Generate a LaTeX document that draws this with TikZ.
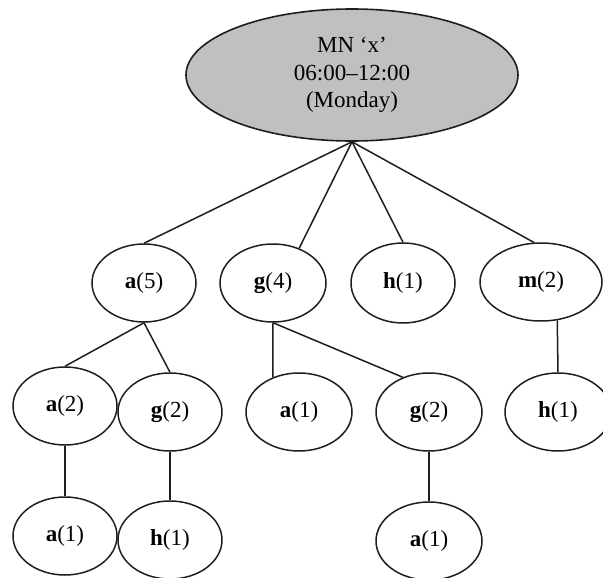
\documentclass[tikz,border=0pt]{standalone}
\usepackage{fontspec}
\setmainfont{Liberation Serif}
\usetikzlibrary{shapes.geometric}
\definecolor{rootfill}{RGB}{192,192,192}
\definecolor{ink}{RGB}{30,30,30}
\tikzset{
  oval/.style={ellipse, draw=ink, line width=1.5pt, inner sep=0pt,
    font=\fontsize{23}{27.5}\selectfont},
  leaf/.style={oval, minimum width=104pt, minimum height=78pt},
  rootoval/.style={oval, fill=rootfill, line width=1.6pt,
    minimum width=332pt, minimum height=132pt, align=center},
  link/.style={draw=ink, line width=1.5pt}
}
\newcommand{\lbl}[2]{\textbf{#1}(#2)}
\begin{document}
\begin{tikzpicture}[x=1pt, y=-1pt]
\useasboundingbox (0,0) rectangle (603,578);

% root
\node[rootoval] (root) at (352,75) {MN `x'\\06:00--12:00\\(Monday)};

% first level
\node[leaf] (a5) at (144,283) {\lbl{a}{5}};
\node[leaf, minimum width=106pt] (g4) at (273,283) {\lbl{g}{4}};
\node[leaf, minimum height=80pt] (h1) at (403,283) {\lbl{h}{1}};
\node[leaf, minimum width=122pt] (m2) at (541,282) {\lbl{m}{2}};

% second level
\node[leaf] (a2) at (65,406) {\lbl{a}{2}};
\node[leaf] (g2l) at (170,412) {\lbl{g}{2}};
\node[leaf, minimum width=106pt] (a1m) at (299,412) {\lbl{a}{1}};
\node[leaf, minimum width=106pt] (g2r) at (429,412) {\lbl{g}{2}};
\node[leaf, minimum width=106pt] (h1r) at (558,412) {\lbl{h}{1}};

% third level
\node[leaf] (a1l) at (65,536) {\lbl{a}{1}};
\node[leaf] (h1l) at (170,540) {\lbl{h}{1}};
\node[leaf, minimum width=106pt] (a1r) at (429,541) {\lbl{a}{1}};

% connectors
\draw[link] (root.south) -- (a5.north);
\draw[link] (root.south) -- (g4.53);
\draw[link] (root.south) -- (h1.north);
\draw[link] (root.south) -- (m2.100);

\draw[link] (a5.south) -- (a2.north);
\draw[link] (a5.south) -- (g2l.north);
\draw[link] (g4.south) -- (a1m.127);
\draw[link] (g4.south) -- (g2r.127);
\draw[link] (m2.-67) -- (h1r.north);

\draw[link] (a2.south) -- (a1l.north);
\draw[link] (g2l.south) -- (h1l.north);
\draw[link] (g2r.south) -- (a1r.north);
\end{tikzpicture}
\end{document}
